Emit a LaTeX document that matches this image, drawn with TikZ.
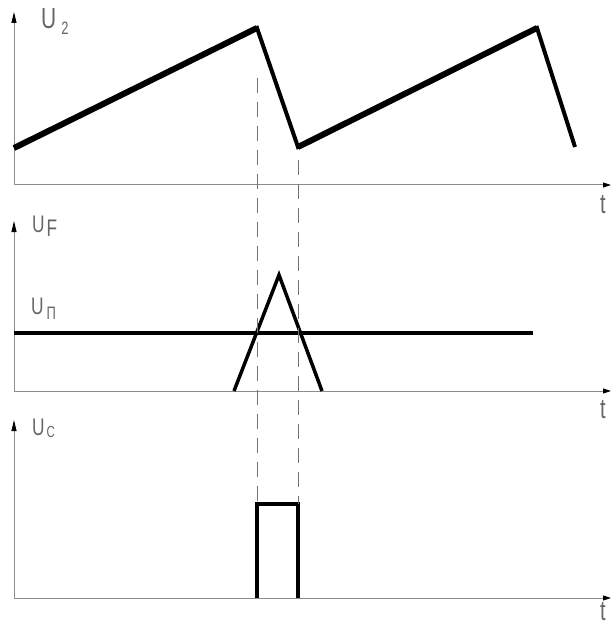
\documentclass[tikz,border=0pt]{standalone}
\usepackage{fontspec}
\newfontfamily\plotfont[FakeStretch=0.72]{Liberation Sans}
\usetikzlibrary{positioning, arrows.meta}

\begin{document}
\begin{tikzpicture}[
    x = 1pt, y = -1pt,
    yaxis/.style = {
      draw = black!45, line width = 1pt,
      -{Triangle[length=11pt, width=5pt, black]}
    },
    xaxis/.style = {
      draw = black!45, line width = 1pt,
      -{Triangle[length=8pt, width=5pt, black]}
    },
    signal/.style = {line width = 3.5pt, line join = miter},
    guide/.style = {
      draw = black!55, line width = 0.8pt,
      dash pattern = on 15pt off 9pt
    },
    lbl/.style = {
      inner sep = 0pt, anchor = base west,
      text = black!60, font = \plotfont
    },
    tlbl/.style = {
      inner sep = 0pt, text = black!60,
      font = \plotfont\fontsize{28}{28}\selectfont
    }
  ]

  \useasboundingbox (0,0) rectangle (611,628);

  % ---- Panel 1: U2 sawtooth ----
  \coordinate (o1) at (14,185);
  \coordinate (y1) at (14,12);
  \coordinate (x1) at (611,185);
  \draw[yaxis] (o1) -- (y1);
  \draw[xaxis] (o1) -- (x1);

  \coordinate (s0) at (14,148);
  \coordinate (p1) at (257,28);
  \coordinate (v1) at (298,147);
  \coordinate (p2) at (537,28);
  \coordinate (s4) at (575,147);
  \draw[line width = 4pt, line join = miter] (s0) -- (p1) -- (v1) -- (p2) -- (s4);
  \draw[line width = 6pt] (s0) -- (p1);
  \draw[line width = 6pt] (v1) -- (p2);

  \node[lbl] (u2) at (41,29)
    {\fontsize{29}{29}\selectfont U\hspace{5pt}\raisebox{-6pt}{\fontsize{18}{18}\selectfont 2}};
  \node[tlbl] (t1) at (603,205) {t};

  % ---- Panel 2: UF and threshold ----
  \coordinate (o2) at (14,391);
  \coordinate (y2) at (14,221);
  \coordinate (x2) at (611,391);
  \draw[yaxis] (o2) -- (y2);
  \draw[xaxis] (o2) -- (x2);

  \coordinate (l0) at (14,333);
  \coordinate (l1) at (533,333);
  \draw[line width = 4pt] (l0) -- (l1);

  \coordinate (r0) at (234,391);
  \coordinate (r1) at (279,275);
  \coordinate (r2) at (322,391);
  \draw[signal] (r0) -- (r1) -- (r2);

  \node[lbl] (uf) at (32,232)
    {\fontsize{24}{24}\selectfont U\hspace{2pt}\raisebox{-4pt}{F}};
  \node[lbl] (up) at (31,314)
    {\fontsize{24}{24}\selectfont U\hspace{3pt}\raisebox{-5pt}{\fontsize{18}{18}\selectfont П}};
  \node[tlbl] (t2) at (603,410) {t};

  % ---- Panel 3: UC pulse ----
  \coordinate (o3) at (14,598);
  \coordinate (y3) at (14,420);
  \coordinate (x3) at (611,598);
  \draw[yaxis] (o3) -- (y3);
  \draw[xaxis] (o3) -- (x3);

  \coordinate (q0) at (257,598);
  \coordinate (q1) at (257,504);
  \coordinate (q2) at (298,504);
  \coordinate (q3) at (298,598);
  \draw[signal] (q0) -- (q1) -- (q2) -- (q3);

  \node[lbl] (uc) at (32,435)
    {\fontsize{24}{24}\selectfont U\hspace{2pt}\raisebox{-2pt}{\fontsize{16}{16}\selectfont С}};
  \node[tlbl] (t3) at (603,612) {t};

  % ---- Dashed guides ----
  \coordinate (g1) at (257,78);
  \coordinate (g2) at (298,160);
  \draw[guide] (g1) -- (q1);
  \draw[guide] (g2) -- (q2);

\end{tikzpicture}
\end{document}
